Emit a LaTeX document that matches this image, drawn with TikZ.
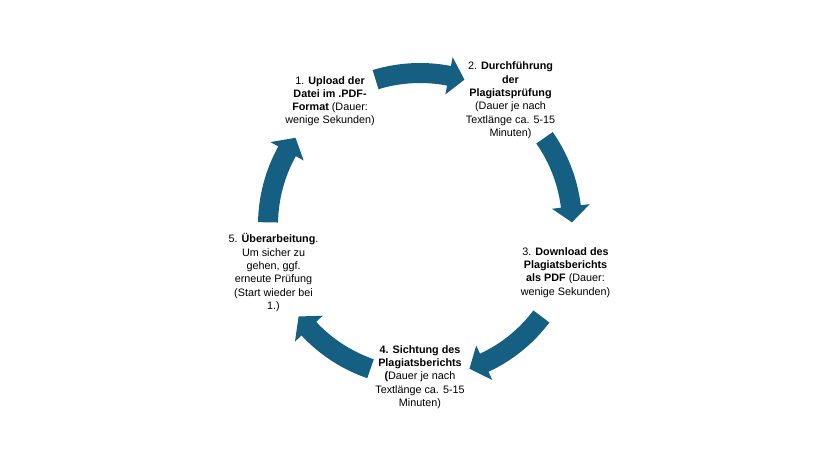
\documentclass[tikz,border=0pt]{standalone}
\usepackage{fontspec}
\setmainfont{Liberation Sans}

\definecolor{cycleblue}{RGB}{21,96,130}

\tikzset{
	step text/.style={align=center, inner sep=0pt, text=black, font=\fontsize{10.8}{13.3}\selectfont},
	arrowfill/.style={fill=cycleblue, draw=none}
}

% one bent block arrow on the ring, #1 = middle angle
\newcommand{\cyclearrow}[1]{%
	\pgfmathsetmacro{\aStart}{#1+17}%
	\pgfmathsetmacro{\aBase}{#1-11}%
	\pgfmathsetmacro{\aTip}{#1-17}%
	\begin{scope}[shift={(c)}]
	\fill[arrowfill] (\aStart:162) arc[start angle=\aStart, end angle=\aBase, radius=162]
		-- (\aBase:171) -- (\aTip:152) -- (\aBase:133) -- (\aBase:142)
		arc[start angle=\aBase, end angle=\aStart, radius=142] -- cycle;
	\end{scope}
}

\begin{document}
\begin{tikzpicture}[x=1pt, y=1pt]
\useasboundingbox (0,0) rectangle (840,473);
\coordinate (c) at (420,248);

\node (upload) at ([shift={(126:153)}]c) [step text]
	{1. \textbf{Upload der}\\ \textbf{Datei im .PDF-}\\ \textbf{Format} (Dauer:\\ wenige Sekunden)};
\node (pruefung) at ([shift={(54:154)}]c) [step text]
	{2. \textbf{Durchführung}\\ \textbf{der}\\ \textbf{Plagiatsprüfung}\\ (Dauer je nach\\ Textlänge ca. 5-15\\ Minuten)};
\node (download) at ([shift={(-18:153)}]c) [step text]
	{3. \textbf{Download des}\\ \textbf{Plagiatsberichts}\\ \textbf{als PDF} (Dauer:\\ wenige Sekunden)};
\node (sichtung) at ([shift={(-90:152)}]c) [step text]
	{\textbf{4. Sichtung des}\\ \textbf{Plagiatsberichts}\\ \textbf{(}Dauer je nach\\ Textlänge ca. 5-15\\ Minuten)};
\node (ueberarb) at ([shift={(198:154)}]c) [step text]
	{5. \textbf{Überarbeitung}.\\ Um sicher zu\\ gehen, ggf.\\ erneute Prüfung\\ (Start wieder bei\\ 1.)};

\cyclearrow{90}
\cyclearrow{18}
\cyclearrow{-54}
\cyclearrow{-126}
\cyclearrow{162}

\end{tikzpicture}
\end{document}
